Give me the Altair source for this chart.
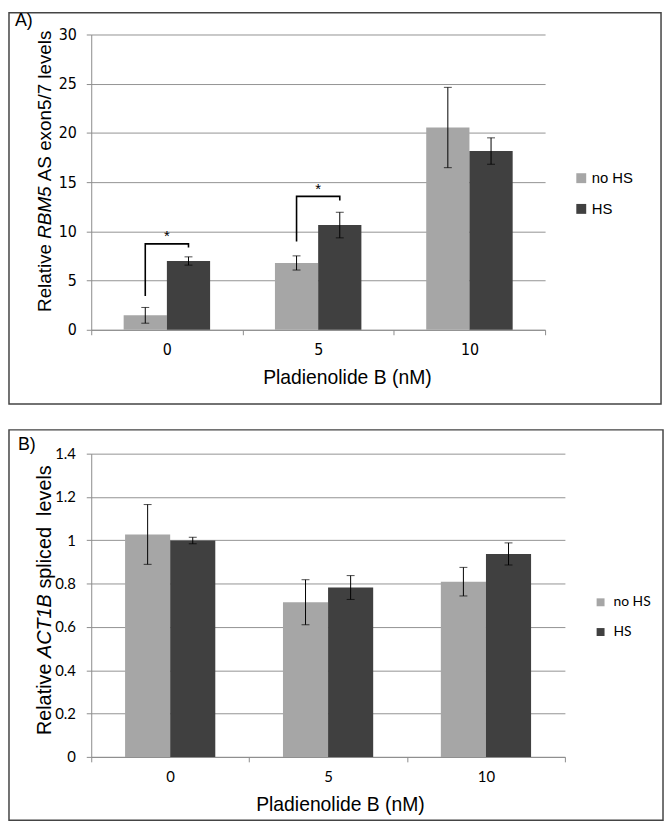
import altair as alt
import pandas as pd

doses = ["0", "5", "10"]
conds = ["no HS", "HS"]
colors = ["#a6a6a6", "#404040"]

# Panel A: RBM5 AS exon5/7
a_nohs = [1.47, 6.79, 20.55]
a_nohs_err = [0.80, 0.72, 4.08]
a_hs = [6.99, 10.64, 18.16]
a_hs_err = [0.42, 1.30, 1.34]

# Panel B: ACT1B spliced
b_nohs = [1.027, 0.714, 0.809]
b_nohs_err = [0.138, 0.104, 0.066]
b_hs = [0.999, 0.782, 0.937]
b_hs_err = [0.015, 0.055, 0.051]

# significance brackets (panel A)
sig_grp = ["g0", "g0", "g0", "g0", "g5", "g5", "g5", "g5"]
sig_dose = ["0", "0", "0", "0", "5", "5", "5", "5"]
sig_cond = ["no HS", "no HS", "HS", "HS", "no HS", "no HS", "HS", "HS"]
sig_y = [3.44, 8.73, 8.73, 8.36, 8.96, 13.55, 13.55, 13.14]
sig_ord = [0, 1, 2, 3, 0, 1, 2, 3]
star_dose = ["0", "5"]
star_y = [9.0, 13.8]

NARROW = "Liberation Sans Narrow, Arial Narrow, DejaVu Sans Condensed, Liberation Sans, sans-serif"
ARIAL = "Liberation Sans, Arial, sans-serif"
CALIBRI = "Lato, Carlito, Liberation Sans, sans-serif"


def frame(nohs, nohs_err, hs, hs_err):
    rows = []
    for i, d in enumerate(doses):
        rows.append({"dose": d, "cond": "no HS", "value": nohs[i],
                     "lo": nohs[i] - nohs_err[i], "hi": nohs[i] + nohs_err[i]})
        rows.append({"dose": d, "cond": "HS", "value": hs[i],
                     "lo": hs[i] - hs_err[i], "hi": hs[i] + hs_err[i]})
    return pd.DataFrame(rows)


one = pd.DataFrame({"k": [1]})


def panel(df, ymax, yvals, tickfont, tickfs, title_segs, title_fs, title_y0,
          xtitle_x, box, letter, letter_xy, legend_xy, legend_font, legend_fs,
          sym_size, label_off, row_pad, lpad_y, lpad_x):
    xenc = alt.X("dose:N", sort=doses,
                 scale=alt.Scale(paddingInner=0, paddingOuter=0),
                 axis=alt.Axis(title="Pladienolide B (nM)", labelAngle=0,
                               tickBand="extent", tickSize=5, tickColor="#8c8c8c",
                               domainColor="#8c8c8c", labelFont=tickfont,
                               labelFontSize=tickfs, labelColor="#000000",
                               labelPadding=lpad_x, titleFont=ARIAL,
                               titleFontSize=19.5, titleFontWeight="normal",
                               titleColor="#000000", titleX=xtitle_x, titleY=54,
                               titleBaseline="alphabetic", titleAnchor="middle"))
    xoff = alt.XOffset("cond:N", sort=conds,
                       scale=alt.Scale(paddingInner=0, paddingOuter=0.75))
    yscale = alt.Scale(domain=[0, ymax], nice=False, zero=True)
    yaxis = alt.Axis(title=None, values=yvals, format="~g", grid=True,
                     gridColor="#939393", gridWidth=1, tickSize=5,
                     tickColor="#8c8c8c", domainColor="#8c8c8c",
                     labelFont=tickfont, labelFontSize=tickfs,
                     labelColor="#000000", labelPadding=lpad_y)

    base = alt.Chart(df)
    bars = base.mark_bar().encode(
        x=xenc, xOffset=xoff,
        y=alt.Y("value:Q", scale=yscale, axis=yaxis),
        color=alt.Color("cond:N", sort=conds,
                        scale=alt.Scale(domain=conds, range=colors),
                        legend=alt.Legend(title=None, orient="none",
                                          legendX=legend_xy[0], legendY=legend_xy[1],
                                          padding=0, symbolType="square",
                                          symbolSize=sym_size, symbolStrokeWidth=0,
                                          labelFont=legend_font,
                                          labelFontSize=legend_fs,
                                          labelColor="#000000",
                                          labelOffset=label_off,
                                          rowPadding=row_pad)),
    )
    err = base.mark_rule(color="#000000", strokeWidth=1).encode(
        x=alt.X("dose:N", sort=doses), xOffset=alt.XOffset("cond:N", sort=conds),
        y=alt.Y("lo:Q", title=None), y2="hi:Q")
    cap_lo = base.mark_tick(color="#000000", thickness=1, size=8).encode(
        x=alt.X("dose:N", sort=doses), xOffset=alt.XOffset("cond:N", sort=conds),
        y=alt.Y("lo:Q", title=None))
    cap_hi = base.mark_tick(color="#000000", thickness=1, size=8).encode(
        x=alt.X("dose:N", sort=doses), xOffset=alt.XOffset("cond:N", sort=conds),
        y=alt.Y("hi:Q", title=None))

    boxc = alt.Chart(one).mark_rect(fillOpacity=0, stroke="#444444",
                                    strokeWidth=1.5).encode(
        x=alt.value(box[0]), x2=alt.value(box[1]),
        y=alt.value(box[2]), y2=alt.value(box[3]))
    lett = alt.Chart(one).mark_text(text=letter, font=ARIAL, fontSize=18,
                                    align="left", baseline="alphabetic",
                                    color="#000000").encode(
        x=alt.value(letter_xy[0]), y=alt.value(letter_xy[1]))

    layers = [boxc, bars, err, cap_lo, cap_hi, lett]
    pos = title_y0
    for txt, italic, em in title_segs:
        kw = dict(text=txt, font=ARIAL, fontSize=title_fs, angle=270,
                  align="left", baseline="alphabetic", color="#000000")
        if italic:
            kw["fontStyle"] = "italic"
        layers.append(alt.Chart(one).mark_text(**kw).encode(
            x=alt.value(-41), y=alt.value(pos)))
        pos -= em * title_fs
    return layers


dfa = frame(a_nohs, a_nohs_err, a_hs, a_hs_err)
dfb = frame(b_nohs, b_nohs_err, b_hs, b_hs_err)

layers_a = panel(
    dfa, 30, [0, 5, 10, 15, 20, 25, 30], NARROW, 16,
    [("Relative", False, 3.89), ("RBM5", True, 3.056), ("AS exon5/7 levels", False, 8.0)],
    19, 280, 258, (-83, 575, -22, 373), "A)", (-77, -9), (487, 137.5),
    ARIAL, 15, 100, 3, 15, 10, 7)

sig = pd.DataFrame({"grp": sig_grp, "dose": sig_dose, "cond": sig_cond,
                    "y": sig_y, "ord": sig_ord})
brk = alt.Chart(sig).mark_line(color="#000000", strokeWidth=1.6).encode(
    x=alt.X("dose:N", sort=doses), xOffset=alt.XOffset("cond:N", sort=conds),
    y=alt.Y("y:Q", title=None), detail="grp:N", order="ord:Q")
stars = alt.Chart(pd.DataFrame({"dose": star_dose, "y": star_y})).mark_text(
    text="*", fontSize=15, font=ARIAL, baseline="alphabetic",
    color="#000000").encode(x=alt.X("dose:N", sort=doses),
                            y=alt.Y("y:Q", title=None))
layers_a += [brk, stars]

chart_a = alt.layer(*layers_a).properties(width=458, height=298)

layers_b = panel(
    dfb, 1.4, [0, 0.2, 0.4, 0.6, 0.8, 1.0, 1.2, 1.4], CALIBRI, 15,
    [("Relative", False, 3.89), ("ACT1B", True, 3.501), ("spliced", False, 3.668),
     ("levels", False, 2.556)],
    20, 284, 251, (-83, 577, -24, 370), "B)", (-74, -4), (507, 143),
    CALIBRI, 14, 64, 6, 16, 11, 8)
chart_b = alt.layer(*layers_b).properties(width=478, height=306)

chart = alt.vconcat(chart_a, chart_b, spacing=125, bounds="flush").resolve_scale(
    x="independent", y="independent", color="independent", xOffset="independent"
).resolve_legend(color="independent").properties(padding=0).configure_view(
    strokeWidth=0)

chart.save("out.html", embed_options={"renderer": "svg", "actions": False})
